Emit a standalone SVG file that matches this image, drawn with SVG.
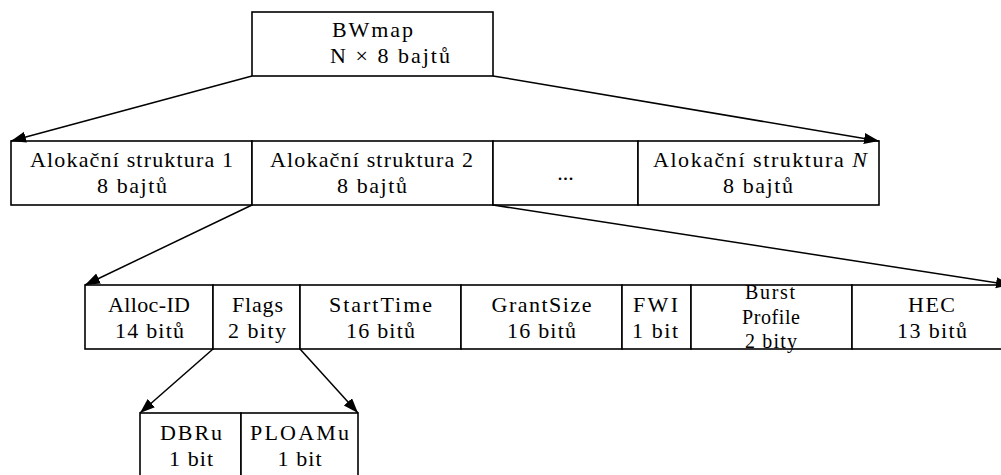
<svg xmlns="http://www.w3.org/2000/svg" width="1001" height="475" viewBox="0 0 1001 475">
  <style>
    .box { fill: #ffffff; stroke: #000000; stroke-width: 1.6; }
    .t { font-size: 22px; fill: #000000; text-anchor: middle; }
    .s { font-size: 20px; }
    .link { fill: none; stroke: #000000; stroke-width: 1.5; marker-end: url(#head); }
  </style>
  <defs>
    <marker id="head" markerUnits="userSpaceOnUse" markerWidth="16" markerHeight="12" refX="15" refY="5.5" orient="auto">
      <path d="M0,0 L15,5.5 L0,11 Z" fill="#000000"/>
    </marker>
  </defs>
  <rect width="1001" height="475" fill="#ffffff"/>

  <g font-family="'Liberation Serif', 'Times New Roman', serif">
  <!-- top: BWmap -->
  <g id="bwmap">
    <rect class="box" x="252" y="12" width="241" height="64"/>
    <text class="t" x="372.5" y="37" textLength="81">BWmap</text>
    <text class="t" x="390" y="63" textLength="120">N × 8 bajtů</text>
  </g>

  <!-- allocation structures -->
  <g id="alloc1">
    <rect class="box" x="11" y="141" width="241" height="64"/>
    <text class="t" x="131.5" y="167" textLength="203">Alokační struktura 1</text>
    <text class="t" x="132" y="193" textLength="70">8 bajtů</text>
  </g>
  <g id="alloc2">
    <rect class="box" x="252" y="141" width="241" height="64"/>
    <text class="t" x="371.5" y="167" textLength="203">Alokační struktura 2</text>
    <text class="t" x="372" y="193" textLength="70">8 bajtů</text>
  </g>
  <g id="alloc-dots">
    <rect class="box" x="493" y="141" width="145" height="64"/>
    <text class="t" x="565.5" y="180">...</text>
  </g>
  <g id="allocN">
    <rect class="box" x="638" y="141" width="241" height="64"/>
    <text class="t" x="760" y="167" textLength="214">Alokační struktura <tspan font-style="italic">N</tspan></text>
    <text class="t" x="758" y="193" textLength="70">8 bajtů</text>
  </g>

  <!-- fields of one allocation structure -->
  <g id="alloc-id">
    <rect class="box" x="85" y="285" width="128" height="64"/>
    <text class="t" x="149" y="312" textLength="82">Alloc-ID</text>
    <text class="t" x="149.5" y="338" textLength="69">14 bitů</text>
  </g>
  <g id="flags">
    <rect class="box" x="213" y="285" width="87" height="64"/>
    <text class="t" x="257.5" y="312" textLength="51">Flags</text>
    <text class="t" x="257" y="338" textLength="58">2 bity</text>
  </g>
  <g id="starttime">
    <rect class="box" x="300" y="285" width="161" height="64"/>
    <text class="t" x="380.5" y="312" textLength="103">StartTime</text>
    <text class="t" x="380.5" y="338" textLength="69">16 bitů</text>
  </g>
  <g id="grantsize">
    <rect class="box" x="461" y="285" width="161" height="64"/>
    <text class="t" x="541.5" y="312" textLength="100">GrantSize</text>
    <text class="t" x="541.5" y="338" textLength="69">16 bitů</text>
  </g>
  <g id="fwi">
    <rect class="box" x="622" y="285" width="69" height="64"/>
    <text class="t" x="655.5" y="312" textLength="45">FWI</text>
    <text class="t" x="655" y="338" textLength="46">1 bit</text>
  </g>
  <g id="burst-profile">
    <rect class="box" x="691" y="285" width="161" height="64"/>
    <text class="t s" x="770" y="299" textLength="50">Burst</text>
    <text class="t s" x="771" y="324" textLength="58">Profile</text>
    <text class="t s" x="771" y="348" textLength="52">2 bity</text>
  </g>
  <g id="hec">
    <rect class="box" x="852" y="285" width="159" height="64"/>
    <text class="t" x="931.5" y="312" textLength="47">HEC</text>
    <text class="t" x="932" y="338" textLength="70">13 bitů</text>
  </g>

  <!-- flag bits -->
  <g id="dbru">
    <rect class="box" x="140" y="413" width="101" height="80"/>
    <text class="t" x="191" y="440" textLength="62">DBRu</text>
    <text class="t" x="191" y="466" textLength="44">1 bit</text>
  </g>
  <g id="ploamu">
    <rect class="box" x="241" y="413" width="117" height="80"/>
    <text class="t" x="299.5" y="440" textLength="99">PLOAMu</text>
    <text class="t" x="299.5" y="466" textLength="44">1 bit</text>
  </g>
  </g>

  <!-- connectors -->
  <g id="connectors">
    <line class="link" x1="252" y1="76" x2="11" y2="141"/>
    <line class="link" x1="493" y1="76" x2="879" y2="141"/>
    <line class="link" x1="252" y1="205" x2="85" y2="285"/>
    <line class="link" x1="493" y1="205" x2="1011" y2="285"/>
    <line class="link" x1="213" y1="349" x2="140" y2="413"/>
    <line class="link" x1="300" y1="349" x2="358" y2="413"/>
  </g>
</svg>
